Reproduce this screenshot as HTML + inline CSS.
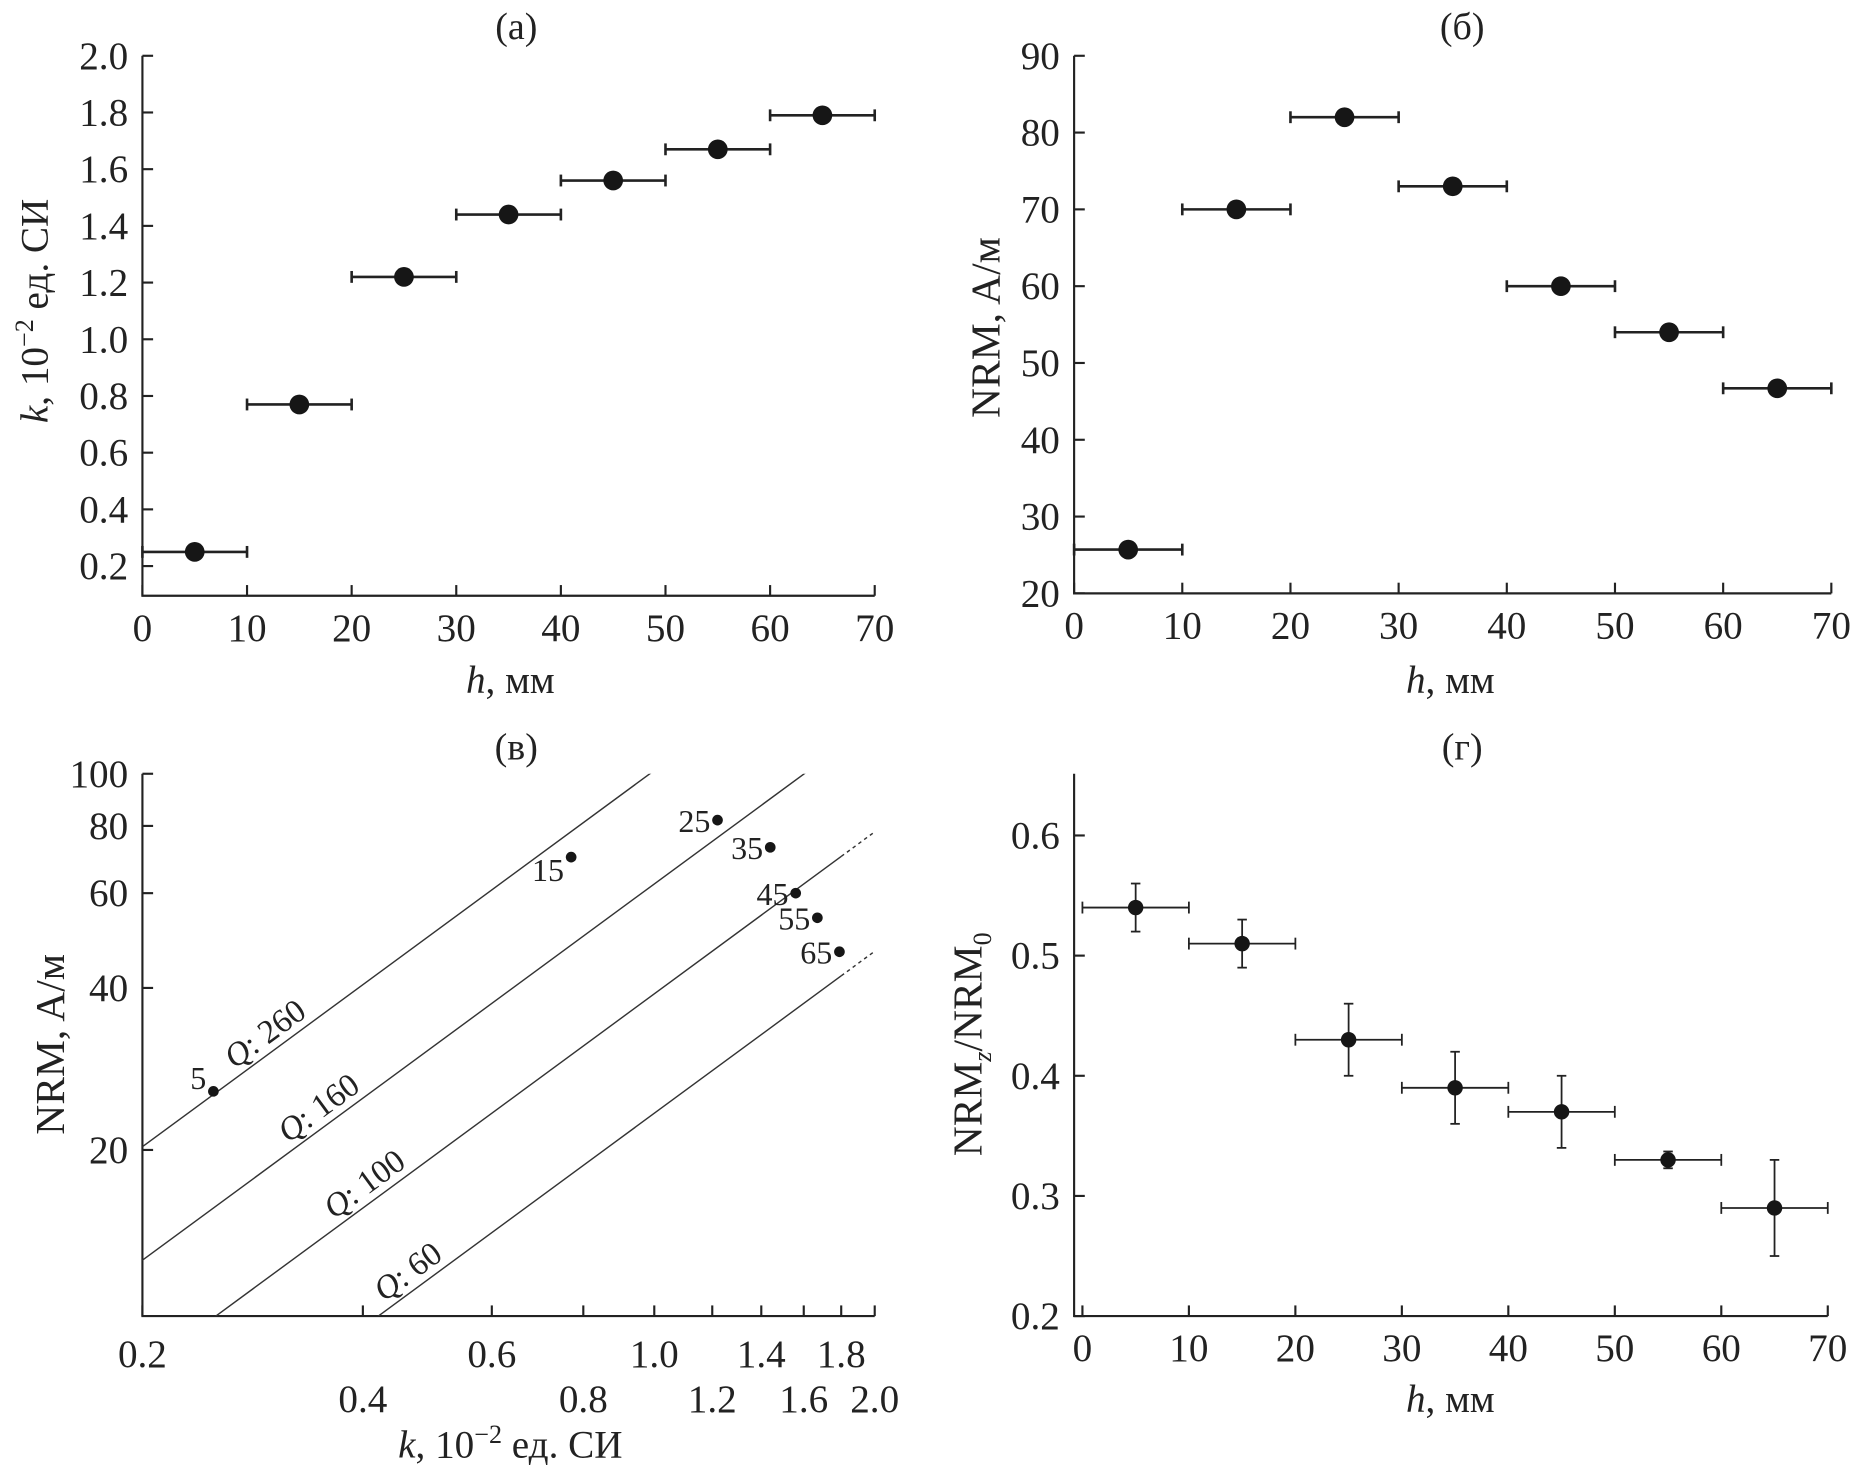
<!DOCTYPE html>
<html><head><meta charset="utf-8"><style>
html,body{margin:0;padding:0;background:#fff;overflow:hidden;width:1861px;height:1468px;}
svg{display:block;}
text{font-family:"Liberation Serif","Times New Roman","DejaVu Serif","Noto Serif CJK SC",serif;fill:#222;}
</style></head><body>
<svg id="fig" width="1861" height="1468" viewBox="0 0 1568 1237" preserveAspectRatio="none" xmlns="http://www.w3.org/2000/svg"></svg>
<script>
const hCats=[5,15,25,35,45,55,65];
const kVals=[0.25,0.77,1.22,1.44,1.56,1.67,1.79];
const nrmVals=[25.7,70,82,73,60,54,46.7];
const ratioVals=[0.54,0.51,0.43,0.39,0.37,0.33,0.29];
const ratioErr=[0.02,0.02,0.03,0.03,0.03,0.007,0.04];
const hErr=5;
const hTicks=[0,10,20,30,40,50,60,70];
const kTicksA=[0.2,0.4,0.6,0.8,1.0,1.2,1.4,1.6,1.8,2.0];
const nrmTicksB=[20,30,40,50,60,70,80,90];
const logXTicks=[0.2,0.4,0.6,0.8,1.0,1.2,1.4,1.6,1.8,2.0];
const logYTicks=[20,40,60,80,100];
const qVals=[260,160,100,60];
const qFactor=0.39;
const ratioTicks=[0.2,0.3,0.4,0.5,0.6];

const svg=document.getElementById('fig');
const NS='http://www.w3.org/2000/svg';
const FF='"Liberation Serif","Times New Roman","DejaVu Serif",serif';
function el(tag,attrs,parent){const e=document.createElementNS(NS,tag);for(const k in attrs)e.setAttribute(k,attrs[k]);(parent||svg).appendChild(e);return e;}
function txt(x,y,s,size,anchor,parent,extra){const t=el('text',Object.assign({x:x,y:y,'font-size':size,'text-anchor':anchor||'middle','font-family':FF},extra||{}),parent);t.innerHTML=s;return t;}
const SW=1.8;
const TS=33;

function linAxis(v0,v1,p0,p1){return v=>p0+(v-v0)/(v1-v0)*(p1-p0);}
function logAxis(v0,v1,p0,p1){return v=>p0+(Math.log10(v)-Math.log10(v0))/(Math.log10(v1)-Math.log10(v0))*(p1-p0);}

function hPanel(name,xS,yS,axisX,axisYb,axisYt,axisXr,yTicks,yFmt,yVals,r,yErr){
  const g=el('g',{});
  
  
  const ax=el('path',{d:`M${axisX},${axisYt} V${axisYb} H${axisXr}`,stroke:'#222','stroke-width':SW,fill:'none'},g);
  
  
  hTicks.forEach(t=>{
    el('line',{x1:xS(t),x2:xS(t),y1:axisYb,y2:axisYb-9,stroke:'#222','stroke-width':SW},g);
    const l=txt(xS(t),axisYb+38,t,TS,'middle',g);
    
    
  });
  yTicks.forEach(t=>{
    el('line',{x1:axisX,x2:axisX+9,y1:yS(t),y2:yS(t),stroke:'#222','stroke-width':SW},g);
    const l=txt(axisX-12,yS(t)+11,yFmt(t),TS,'end',g);
    
    
  });
  hCats.forEach((h,i)=>{
    const y=yS(yVals[i]),x0=xS(h-hErr),x1=xS(h+hErr);
    const w=yErr?1.5:2.2;
    el('line',{x1:x0,x2:x1,y1:y,y2:y,stroke:'#222','stroke-width':w},g);
    el('line',{x1:x0,x2:x0,y1:y-5,y2:y+5,stroke:'#222','stroke-width':w},g);
    el('line',{x1:x1,x2:x1,y1:y-5,y2:y+5,stroke:'#222','stroke-width':w},g);
    if(yErr){const ya=yS(yVals[i]+yErr[i]),yb=yS(yVals[i]-yErr[i]),x=xS(h);
      el('line',{x1:x,x2:x,y1:ya,y2:yb,stroke:'#222','stroke-width':w},g);
      el('line',{x1:x-4,x2:x+4,y1:ya,y2:ya,stroke:'#222','stroke-width':w},g);
      el('line',{x1:x-4,x2:x+4,y1:yb,y2:yb,stroke:'#222','stroke-width':w},g);}
    const c=el('circle',{cx:xS(h),cy:y,r:r,fill:'#161616'},g);
    
    
  });
  return g;
}

const xa=linAxis(0,70,120,737), ya=linAxis(0.2,2.0,477,47);
hPanel('panel-a',xa,ya,120,502,47,737,kTicksA,t=>t.toFixed(1),kVals,8.3);
const xb=linAxis(0,70,905,1543), yb=linAxis(20,90,500,47);
hPanel('panel-b',xb,yb,905,500,47,1543,nrmTicksB,t=>t,nrmVals,8.3);
const xd=linAxis(0,70,912,1540), yd=linAxis(0.2,0.6,1109,704);
hPanel('panel-d',xd,yd,905,1109,652,1540,ratioTicks,t=>t.toFixed(1),ratioVals,6.5,ratioErr);

const xc=logAxis(0.2,2.0,120,737), yc=logAxis(20,100,969,652);
const gc=el('g',{});


const axc=el('path',{d:`M120,652 V1109 H737`,stroke:'#222','stroke-width':SW,fill:'none'},gc);


logYTicks.forEach(t=>{el('line',{x1:120,x2:129,y1:yc(t),y2:yc(t),stroke:'#222','stroke-width':SW},gc);
  const l=txt(108,yc(t)+11,t,TS,'end',gc);
  
  });
logXTicks.forEach((t,i)=>{el('line',{x1:xc(t),x2:xc(t),y1:1109,y2:1100,stroke:'#222','stroke-width':SW},gc);
  const l=txt(xc(t),i%2===0?1152:1190,t.toFixed(1),TS,'middle',gc);
  
  });
const cp=el('clipPath',{id:'cc'},gc);
el('rect',{x:120,y:652,width:617,height:457},cp);
const labelK=[0.30,0.355,0.41,0.47];
qVals.forEach((q,i)=>{
  const f=k=>q*qFactor*k;
  const kEnd=i>=2?1.8:2.0;
  const ln=el('line',{x1:xc(0.1),y1:yc(f(0.1)),x2:xc(kEnd),y2:yc(f(kEnd)),stroke:'#333','stroke-width':1.2,'clip-path':'url(#cc)'},gc);
  
  
  if(i>=2){const d=el('line',{x1:xc(1.8),y1:yc(f(1.8)),x2:xc(2.0),y2:yc(f(2.0)),stroke:'#333','stroke-width':1.2,'stroke-dasharray':'3,3','clip-path':'url(#cc)'},gc);
    
    }
  const kk=labelK[i],lx=xc(kk),ly=yc(f(kk))-8;
  const ang=-Math.atan2(yc(f(kk))-yc(f(kk*2)),xc(kk*2)-xc(kk))*180/Math.PI;
  const t=txt(lx,ly,'<tspan font-style="italic">Q</tspan>: '+q,28,'middle',gc,{transform:`rotate(${ang} ${lx} ${ly})`});
  
  
});
hCats.forEach((h,i)=>{
  const c=el('circle',{cx:xc(kVals[i]),cy:yc(nrmVals[i]),r:4.5,fill:'#161616'},gc);
  
  
  const l=txt(xc(kVals[i])-6,yc(nrmVals[i])+(i===0?-2:i===1?20:10),h,27,'end',gc);
  
  
});

[['(a)',435,33],['(б)',1232,33],['(в)',435,640],['(г)',1232,640]].forEach(a=>{const t=txt(a[1],a[2],a[0],32);
  
  });
[[430,584],[1222,584],[1222,1190]].forEach(p=>{const t=txt(p[0],p[1],'<tspan font-style="italic">h</tspan>, мм',33);
  
  });
const kl=txt(430,1228,'<tspan font-style="italic">k</tspan>, 10<tspan dy="-12" font-size="22">−2</tspan><tspan dy="12"> ед. СИ</tspan>',33);


const y1=txt(0,0,'<tspan font-style="italic">k</tspan>, 10<tspan dy="-12" font-size="22">−2</tspan><tspan dy="12"> ед. СИ</tspan>',33,'middle',svg,{transform:'translate(40,262) rotate(-90)'});


const y2=txt(0,0,'NRM, A/м',35,'middle',svg,{transform:'translate(842,276) rotate(-90)'});


const y3=txt(0,0,'NRM, A/м',35,'middle',svg,{transform:'translate(54,880) rotate(-90)'});


const y4=txt(0,0,'NRM<tspan dy="8" font-size="22" font-style="italic">z</tspan><tspan dy="-8">/NRM</tspan><tspan dy="8" font-size="22">0</tspan>',35,'middle',svg,{transform:'translate(827,880) rotate(-90)'});


</script>
</body></html>
